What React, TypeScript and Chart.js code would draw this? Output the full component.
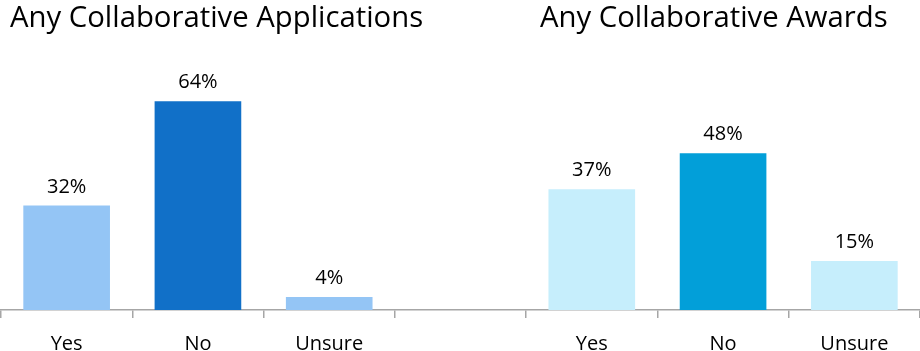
import React, { useEffect, useRef } from "react";
import { Chart, registerables } from "chart.js";

Chart.register(...registerables);

const categories = ["Yes", "No", "Unsure", "", "Yes", "No", "Unsure"];
const values: (number | null)[] = [32, 64, 4, null, 37, 48, 15];
const titles = ["Any Collaborative Applications", "Any Collaborative Awards"];
const colors = ["#94C5F5", "#1170C8", "#94C5F5", "#ffffff", "#C6EEFC", "#029FD9", "#C6EEFC"];

const FONT = "'Open Sans', sans-serif";

const labelPlugin = {
  id: "barLabels",
  afterDatasetsDraw(chart: any) {
    const ctx = chart.ctx;
    const meta = chart.getDatasetMeta(0);
    ctx.save();
    ctx.font = `20px ${FONT}`;
    ctx.fillStyle = "#000000";
    ctx.textAlign = "center";
    ctx.textBaseline = "alphabetic";
    meta.data.forEach((bar: any, i: number) => {
      const v = values[i];
      if (v === null || v === undefined) return;
      ctx.fillText(`${v}%`, bar.x, bar.y - 13);
    });
    ctx.restore();
  },
};

export default function App() {
  const ref = useRef<HTMLCanvasElement>(null);
  useEffect(() => {
    document.body.style.margin = "0";
    const chart = new Chart(ref.current!, {
      type: "bar",
      data: {
        labels: categories,
        datasets: [
          {
            data: values,
            backgroundColor: colors,
            categoryPercentage: 1,
            barPercentage: 0.66,
          },
        ],
      },
      options: {
        animation: false,
        responsive: false,
        maintainAspectRatio: false,
        layout: { padding: { left: 1, right: 0, top: 0, bottom: 0 } },
        plugins: { legend: { display: false }, tooltip: { enabled: false } },
        scales: {
          x: {
            afterFit: (s: any) => {
              s.height = 41;
            },
            grid: {
              offset: true,
              drawOnChartArea: false,
              drawTicks: true,
              tickLength: 8,
              color: "#A6A6A6",
              lineWidth: 1.5,
            },
            border: { display: true, color: "#A6A6A6", width: 1.5 },
            ticks: {
              color: "#000000",
              font: { family: FONT, size: 20 },
              padding: 14,
              maxRotation: 0,
              autoSkip: false,
            },
          },
          y: {
            display: false,
            min: 0,
            max: 95,
          },
        },
      },
      plugins: [labelPlugin],
    });
    return () => chart.destroy();
  }, []);

  const titleStyle: React.CSSProperties = {
    position: "absolute",
    top: -4,
    fontFamily: FONT,
    fontSize: 29.3,
    color: "#000",
    whiteSpace: "nowrap",
  };

  return (
    <div style={{ position: "relative", width: 920, height: 351, overflow: "hidden" }}>
      <canvas ref={ref} width={920} height={351} style={{ display: "block" }} />
      <div style={{ ...titleStyle, left: 10 }}>{titles[0]}</div>
      <div style={{ ...titleStyle, left: 540 }}>{titles[1]}</div>
    </div>
  );
}
